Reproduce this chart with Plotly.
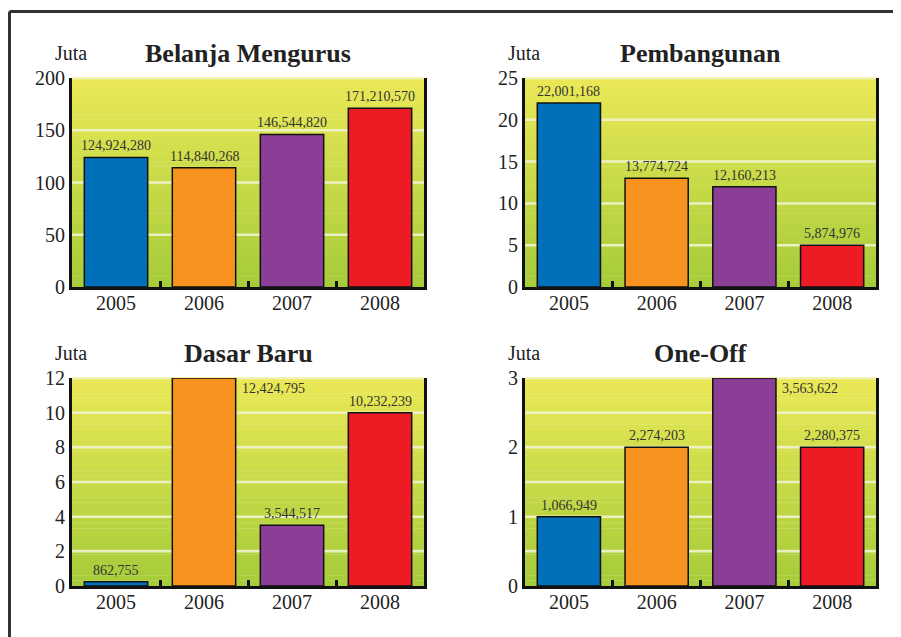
import plotly.graph_objects as go

# ---------------- data ----------------
years = ["2005", "2006", "2007", "2008"]
titles = ["Belanja Mengurus", "Pembangunan", "Dasar Baru", "One-Off"]

belanja_bar = [124, 114, 146, 171]
belanja_lbl = ["124,924,280", "114,840,268", "146,544,820", "171,210,570"]

pembangunan_bar = [22, 13, 12, 5]
pembangunan_lbl = ["22,001,168", "13,774,724", "12,160,213", "5,874,976"]

dasar_bar = [0.25, 12, 3.5, 10]
dasar_lbl = ["862,755", "12,424,795", "3,544,517", "10,232,239"]

oneoff_bar = [1, 2, 3, 2]
oneoff_lbl = ["1,066,949", "2,274,203", "3,563,622", "2,280,375"]

y_max = [200, 25, 12, 3]
y_step = [50, 5, 2, 1]
y_minor = [None, None, None, 0.5]

bar_colors = ["#0070bb", "#f7931e", "#8b3e96", "#ed1c24"]

# ---------------- layout geometry ----------------
W, H = 901, 637
OFF = 8  # page body margin


def fx(p):
    return (p - OFF) / W


def fy(p):
    return 1 - (p - OFF) / H


dom_x = [(fx(72), fx(424)), (fx(525), fx(876)), (fx(72), fx(424)), (fx(525), fx(876))]
dom_y = [(fy(287), fy(78)), (fy(287), fy(78)), (fy(586), fy(378)), (fy(586), fy(378))]

SERIF = "Liberation Serif"

# pull x tick labels slightly closer to the axis if supported
x_extra = {}
try:
    go.layout.XAxis(ticklabelstandoff=-4)
    x_extra = dict(ticklabelstandoff=-4)
except Exception:
    x_extra = {}

fig = go.Figure()

panels = [(belanja_bar, belanja_lbl), (pembangunan_bar, pembangunan_lbl),
          (dasar_bar, dasar_lbl), (oneoff_bar, oneoff_lbl)]

shapes = []
annotations = []

top_rgb = (234, 232, 86)
bot_rgb = (166, 204, 58)
NB = 40
BW = 0.72

for k, (vals, lbls) in enumerate(panels):
    idx = "" if k == 0 else str(k + 1)
    xa, ya = "x" + idx, "y" + idx
    fig.add_trace(go.Bar(
        x=years, y=vals, xaxis=xa, yaxis=ya,
        marker=dict(color=bar_colors, line=dict(color="#111", width=1.5)),
        width=BW, showlegend=False, hoverinfo="skip"))

    # vertical gradient background (yellow -> green)
    for b in range(NB):
        t = b / (NB - 1)
        c = tuple(int(round(bot_rgb[i] + (top_rgb[i] - bot_rgb[i]) * t)) for i in range(3))
        shapes.append(dict(type="rect", xref=xa + " domain", yref=ya + " domain",
                           x0=0, x1=1, y0=b / NB, y1=(b + 1) / NB + 0.002,
                           fillcolor="rgb(%d,%d,%d)" % c, line=dict(width=0),
                           layer="below"))

    tickvals = [i * y_step[k] for i in range(int(y_max[k] / y_step[k]) + 1)]
    grid = list(tickvals)
    if y_minor[k]:
        grid = [i * y_minor[k] for i in range(int(y_max[k] / y_minor[k]) + 1)]
    fig.layout["xaxis" + idx] = dict(
        domain=list(dom_x[k]), anchor=ya, type="category", automargin=False,
        range=[-0.5, 3.5], showgrid=False, showline=True, linecolor="#111",
        linewidth=3, ticks="inside", ticklen=6, tickwidth=3, tickcolor="#111",
        tickson="boundaries", tickfont=dict(family=SERIF, size=20, color="#222"),
        fixedrange=True, **x_extra)
    fig.layout["yaxis" + idx] = dict(
        domain=list(dom_y[k]), anchor=xa, range=[0, y_max[k]], automargin=False,
        tickmode="array", tickvals=tickvals,
        showgrid=False, showline=True, linecolor="#111", linewidth=3, mirror=True,
        ticks="", zeroline=False,
        tickfont=dict(family=SERIF, size=20, color="#222"), fixedrange=True)
    for g in grid:
        if g == 0:
            continue
        shapes.append(dict(type="line", xref=xa + " domain", yref=ya,
                           x0=0, x1=1, y0=g, y1=g,
                           line=dict(color="rgba(238,242,200,0.95)", width=2.5),
                           layer="below"))

    cx = (dom_x[k][0] + dom_x[k][1]) / 2
    ty = dom_y[k][1] + 25 / H
    annotations.append(dict(text="<b>%s</b>" % titles[k], xref="paper", yref="paper",
                            x=cx, y=ty, xanchor="center", yanchor="middle",
                            showarrow=False,
                            font=dict(family=SERIF, size=26, color="#222")))
    annotations.append(dict(text="Juta", xref="paper", yref="paper",
                            x=dom_x[k][0] + 17 / W, y=ty, xanchor="right",
                            yanchor="middle", showarrow=False,
                            font=dict(family=SERIF, size=20, color="#222")))

    for i, (v, s) in enumerate(zip(vals, lbls)):
        if v >= y_max[k]:
            annotations.append(dict(text=s, xref=xa, yref=ya, x=i + BW / 2, y=v,
                                    xanchor="left", yanchor="top", xshift=4, yshift=-1,
                                    showarrow=False,
                                    font=dict(family=SERIF, size=14, color="#333")))
        else:
            annotations.append(dict(text=s, xref=xa, yref=ya, x=i, y=v,
                                    xanchor="center", yanchor="bottom", yshift=2,
                                    showarrow=False,
                                    font=dict(family=SERIF, size=14, color="#333")))

# outer frame (top and left edges)
shapes.append(dict(type="line", xref="paper", yref="paper",
                   x0=fx(9.5), x1=1, y0=fy(11.5), y1=fy(11.5),
                   line=dict(color="#333", width=3)))
shapes.append(dict(type="line", xref="paper", yref="paper",
                   x0=fx(9.5), x1=fx(9.5), y0=0, y1=fy(11.5),
                   line=dict(color="#333", width=3)))

fig.update_layout(width=W, height=H, margin=dict(l=0, r=0, t=0, b=0, autoexpand=False),
                  paper_bgcolor="white", plot_bgcolor="rgba(0,0,0,0)",
                  shapes=shapes, annotations=annotations, bargap=0.28)

fig.write_html("out.html")
